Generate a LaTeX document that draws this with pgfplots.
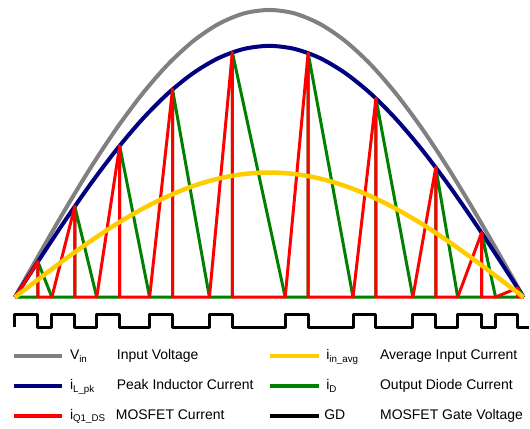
\documentclass[border=0pt]{standalone}
\usepackage{pgfplots}
\pgfplotsset{compat=1.18}
\usepackage{fontspec}
\setmainfont{Liberation Sans}
\definecolor{cgray}{RGB}{128,128,128}
\definecolor{cnavy}{RGB}{0,0,128}
\definecolor{cred}{RGB}{255,0,0}
\definecolor{cgreen}{RGB}{0,128,0}
\definecolor{cyellow}{RGB}{255,204,0}
\begin{document}
\begin{tikzpicture}
\begin{axis}[
  scale only axis, width=530pt, height=430pt,
  xmin=0, xmax=530, ymin=0, ymax=430, y dir=reverse,
  hide axis, clip=false,
  every axis plot/.append style={line join=round, line cap=butt},
  nodes={font=\fontsize{14}{16}\selectfont, inner sep=0pt, anchor=base west},
]
\draw[draw=none] (rel axis cs:0,0) rectangle (rel axis cs:1,1);
% Input voltage
\addplot[cgray, line width=4pt, smooth] coordinates {
(15,298) (40.5,253.0) (66,209.0) (91.5,167.2) (117,128.7) (142.5,94.4) (168,65.0) (193.5,41.4) (219,24.1) (244.5,13.5) (270,10)
(295.5,13.5) (321,24.1) (346.5,41.4) (372,65.0) (397.5,94.4) (423,128.7) (448.5,167.2) (474,209.0) (499.5,253.0) (525,298)};
% Peak inductor current
\addplot[cnavy, line width=4pt, smooth] coordinates {
(15,298) (40.5,258.6) (66,220.1) (91.5,183.6) (117,149.9) (142.5,119.8) (168,94.1) (193.5,73.5) (219,58.3) (244.5,49.1) (270,46)
(295.5,49.1) (321,58.3) (346.5,73.5) (372,94.1) (397.5,119.8) (423,149.9) (448.5,183.6) (474,220.1) (499.5,258.6) (525,298)};
% Output diode current
\addplot[cgreen, line width=3pt] coordinates {
(15,298) (38,298) (38,262.4) (52,298) (75,298) (75,207) (97,298) (120,298) (120,146.2) (150,298)
(173,298) (173,89.7) (210,298) (233,298) (233,52.5) (286,298) (309,298) (309,53.2) (354,298)
(377,298) (377,98.7) (414,298) (437,298) (437,167.9) (459,298) (483,298) (483,233.4) (497,298)
(519,298) (519,288.7) (525,298)};
% MOSFET current
\addplot[cred, line width=3pt] coordinates {
(15,298) (38,262.4) (38,298) (52,298) (75,207) (75,298) (97,298) (120,146.2) (120,298) (150,298)
(173,89.7) (173,298) (210,298) (233,52.5) (233,298) (286,298) (309,53.2) (309,298) (354,298)
(377,98.7) (377,298) (414,298) (437,167.9) (437,298) (459,298) (483,233.4) (483,298) (497,298)
(519,288.7) (519,298) (525,298)};
% Average input current
\addplot[cyellow, line width=4.5pt, smooth] coordinates {
(15,298) (40.5,278.5) (66,259.4) (91.5,241.3) (117,224.5) (142.5,209.6) (168,196.9) (193.5,186.6) (219,179.1) (244.5,174.5) (270,173)
(295.5,174.5) (321,179.1) (346.5,186.6) (372,196.9) (397.5,209.6) (423,224.5) (448.5,241.3) (474,259.4) (499.5,278.5) (525,298)};
% Gate drive
\addplot[black, line width=3pt] coordinates {
(15,328) (15,315) (38,315) (38,328) (52,328) (52,315) (75,315) (75,328) (97,328) (97,315) (120,315) (120,328)
(150,328) (150,315) (173,315) (173,328) (210,328) (210,315) (233,315) (233,328) (286,328) (286,315) (309,315) (309,328)
(354,328) (354,315) (377,315) (377,328) (414,328) (414,315) (437,315) (437,328) (459,328) (459,315) (483,315) (483,328)
(497,328) (497,315) (519,315) (519,328) (530,328)};
% Legend lines
\addplot[cgray, line width=4pt] coordinates {(14,357) (62,357)};
\addplot[cnavy, line width=4pt] coordinates {(14,387) (62,387)};
\addplot[cred, line width=4pt] coordinates {(14,417) (62,417)};
\addplot[cyellow, line width=4pt] coordinates {(271,357) (320,357)};
\addplot[cgreen, line width=4pt] coordinates {(271,387) (320,387)};
\addplot[black, line width=4pt] coordinates {(271,417) (320,417)};
% Legend texts
\node at (axis cs:70,361) {V\textsubscript{in}};
\node at (axis cs:117,361) {Input Voltage};
\node at (axis cs:70,391) {i\textsubscript{L\_pk}};
\node at (axis cs:117,391) {Peak Inductor Current};
\node at (axis cs:70,421) {i\textsubscript{Q1\_DS}};
\node at (axis cs:116,421) {MOSFET Current};
\node at (axis cs:327,361) {i\textsubscript{in\_avg}};
\node at (axis cs:381,361) {Average Input Current};
\node at (axis cs:327,391) {i\textsubscript{D}};
\node at (axis cs:381,391) {Output Diode Current};
\node at (axis cs:325,421) {GD};
\node at (axis cs:381,421) {MOSFET Gate Voltage};
\end{axis}
\end{tikzpicture}
\end{document}
